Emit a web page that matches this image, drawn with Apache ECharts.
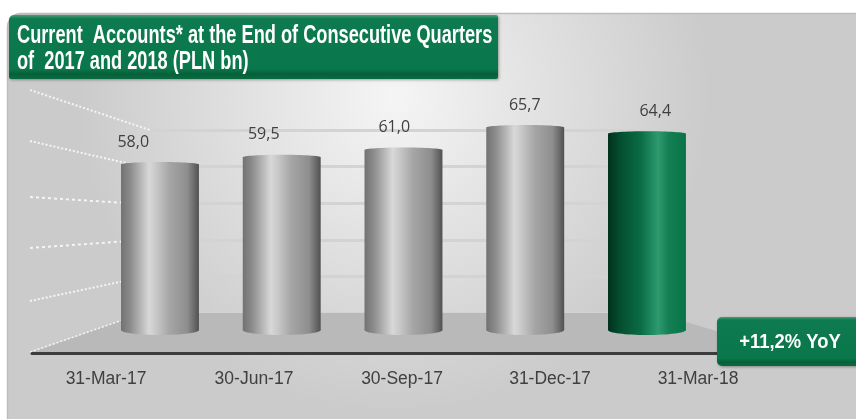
<!DOCTYPE html>
<html><head><meta charset="utf-8">
<script src="https://cdn.jsdelivr.net/npm/echarts@6/dist/echarts.min.js"></script>
<style>html,body{margin:0;padding:0;background:#fff}#c{width:856px;height:419px}</style>
</head><body><div id="c"></div>
<script>
// ---- data ----
const categories = ['31-Mar-17', '30-Jun-17', '30-Sep-17', '31-Dec-17', '31-Mar-18'];
const values = [58.0, 59.5, 61.0, 65.7, 64.4];
const titleLines = ['Current  Accounts* at the End of Consecutive Quarters', 'of  2017 and 2018 (PLN bn)'];
const yoyText = '+11,2% YoY';
const wallMin = 20, wallMax = 70, wallInterval = 10;
const barBase = 23, barMax = 70;
const highlightIndex = 4;

function fmt(v) { return v.toFixed(1).replace('.', ','); }

const G = echarts.graphic;
const grayGrad = new G.LinearGradient(0, 0, 1, 0, [
  {offset: 0, color: '#727272'}, {offset: 0.12, color: '#8c8c8c'},
  {offset: 0.36, color: '#d8d8d8'}, {offset: 0.44, color: '#cacaca'},
  {offset: 0.62, color: '#a6a6a6'}, {offset: 0.85, color: '#8e8e8e'},
  {offset: 0.95, color: '#666666'}, {offset: 1, color: '#505050'}
]);
const greenGrad = new G.LinearGradient(0, 0, 1, 0, [
  {offset: 0, color: '#00301c'}, {offset: 0.15, color: '#034e2f'},
  {offset: 0.42, color: '#0a6c45'}, {offset: 0.64, color: '#2e9a6e'},
  {offset: 0.78, color: '#137f52'}, {offset: 1, color: '#0a7449'}
]);
const boxGrad = new G.LinearGradient(0, 0, 0, 1, [
  {offset: 0, color: '#4a9d78'}, {offset: 0.06, color: '#0d7b4f'},
  {offset: 0.85, color: '#0a764b'}, {offset: 0.92, color: '#066038'}, {offset: 1, color: '#0a6a44'}
]);

const chart = echarts.init(document.getElementById('c'), null, {renderer: 'canvas'});
const gridTop = 104.4, gridH = 225.6;

const option = {
  animation: false,
  backgroundColor: '#ffffff',
  grid: [
    {left: 143, top: 130, width: 513, height: 183},
    {left: 99.1, top: gridTop, width: 608.75, height: gridH},
    {left: 68, top: gridTop, width: 652.5, height: gridH},
    {left: 32, top: 104, width: 740, height: 249}
  ],
  xAxis: [
    {gridIndex: 0, type: 'category', data: categories, show: false},
    {gridIndex: 1, type: 'category', data: categories, show: false},
    {gridIndex: 2, type: 'category', data: categories, show: false},
    {gridIndex: 3, type: 'category', data: categories, z: 4,
      axisLine: {show: true, lineStyle: {color: '#3c3c3c', width: 3}},
      axisTick: {show: false},
      axisLabel: {color: '#404040', fontSize: 17.5, fontFamily: '"Liberation Sans", Arial, sans-serif', margin: 17}
    }
  ],
  yAxis: [
    {gridIndex: 0, type: 'value', min: wallMin, max: wallMax, interval: wallInterval,
      axisLine: {show: false}, axisTick: {show: false}, axisLabel: {show: false},
      splitLine: {show: true, lineStyle: {color: '#d3d3d3', width: 3}}},
    {gridIndex: 1, type: 'value', min: barBase, max: barMax, show: false, splitLine: {show: false}},
    {gridIndex: 2, type: 'value', min: barBase, max: barMax, show: false, splitLine: {show: false}},
    {gridIndex: 3, type: 'value', show: false, splitLine: {show: false}}
  ],
  series: [
    {
      type: 'custom', xAxisIndex: 1, yAxisIndex: 1, z: 5,
      data: values.map((v, i) => [i, v]),
      renderItem: function (params, api) {
        const i = api.value(0), v = api.value(1);
        const p = api.coord([i, v]);
        const b = api.coord([i, barBase]);
        const w = api.size([1, 0])[0] * 0.64;
        const fill = i === highlightIndex ? greenGrad : grayGrad;
        return {type: 'group', children: [
          {type: 'rect', shape: {x: p[0] - w / 2, y: p[1] + 2.5, width: w, height: b[1] - p[1] - 2.5}, style: {fill: fill}},
          {type: 'ellipse', shape: {cx: p[0], cy: b[1], rx: w / 2, ry: 5}, style: {fill: fill}},
          {type: 'ellipse', shape: {cx: p[0], cy: p[1] + 2.5, rx: w / 2, ry: 2.5}, style: {fill: fill}}
        ]};
      }
    },
    {
      type: 'custom', xAxisIndex: 2, yAxisIndex: 2, z: 6,
      data: values.map((v, i) => [i, v]),
      renderItem: function (params, api) {
        const i = api.value(0), v = api.value(1);
        const p = api.coord([i, v]);
        return {type: 'text', style: {text: fmt(v), x: p[0], y: p[1] - 20, align: 'center', verticalAlign: 'middle',
          fill: '#404040', font: '16px "Open Sans", sans-serif'}};
      }
    }
  ],
  graphic: [
    {type: 'rect', z: -10, shape: {x: 7.5, y: 13.5, width: 860, height: 420, r: [14, 0, 0, 12]},
      style: {stroke: '#bdbdbd', lineWidth: 1.5,
        fill: new G.RadialGradient(0.45, 0.2, 0.75, [{offset: 0, color: '#f5f5f5'}, {offset: 1, color: '#cbcbcb'}])}},
    {type: 'polygon', z: 1, shape: {points: [[30, 353], [143, 313], [656, 313], [790, 353]]},
      style: {fill: '#b9b9b9'}},
    // side wall dotted lines
    {type: 'line', z: 1, shape: {x1: 30, y1: 90, x2: 150, y2: 130}, style: {stroke: '#fafafa', lineWidth: 2, lineDash: [2, 2], opacity: 0.9}},
    {type: 'line', z: 1, shape: {x1: 30, y1: 141, x2: 143, y2: 167}, style: {stroke: '#fafafa', lineWidth: 2, lineDash: [2, 2], opacity: 0.9}},
    {type: 'line', z: 1, shape: {x1: 30, y1: 197, x2: 143, y2: 204}, style: {stroke: '#fafafa', lineWidth: 2, lineDash: [3, 3], opacity: 0.9}},
    {type: 'line', z: 1, shape: {x1: 30, y1: 248, x2: 143, y2: 240}, style: {stroke: '#fafafa', lineWidth: 2, lineDash: [3, 3], opacity: 0.9}},
    {type: 'line', z: 1, shape: {x1: 30, y1: 301, x2: 143, y2: 277}, style: {stroke: '#fafafa', lineWidth: 2, lineDash: [2, 2], opacity: 0.9}},
    {type: 'line', z: 2, shape: {x1: 30, y1: 352, x2: 143, y2: 313}, style: {stroke: '#fafafa', lineWidth: 1.5, lineDash: [2, 2], opacity: 0.9}},
    // title box
    {type: 'rect', z: 10, shape: {x: 9, y: 15, width: 489, height: 64, r: [5, 2, 2, 2]},
      style: {fill: boxGrad, shadowBlur: 3, shadowColor: 'rgba(0,0,0,0.35)', shadowOffsetX: 1, shadowOffsetY: 1}},
    {type: 'text', z: 11, x: 17, y: 23, scaleX: 0.70,
      style: {text: titleLines.join('\n'), fill: '#ffffff', font: 'bold 26px "Liberation Sans", Arial, sans-serif',
        lineHeight: 26, align: 'left', verticalAlign: 'top'}},
    // YoY box
    {type: 'rect', z: 10, shape: {x: 717, y: 317, width: 150, height: 49, r: 5},
      style: {fill: boxGrad, shadowBlur: 3, shadowColor: 'rgba(0,0,0,0.35)', shadowOffsetX: 1, shadowOffsetY: 1}},
    {type: 'text', z: 11, x: 790, y: 342, scaleX: 0.92,
      style: {text: yoyText, fill: '#ffffff', font: 'bold 20px "Liberation Sans", Arial, sans-serif',
        align: 'center', verticalAlign: 'middle'}}
  ]
};
chart.setOption(option);
</script>
</body></html>
